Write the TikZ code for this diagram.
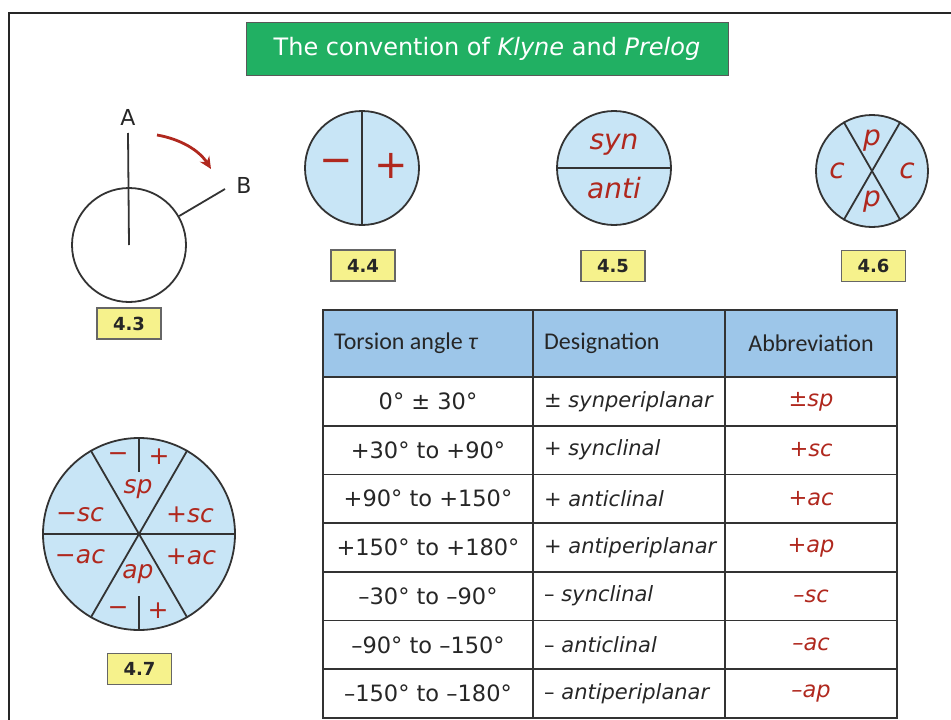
\documentclass[tikz,border=0pt]{standalone}
\usepackage{fontspec}
\setmainfont{DejaVu Sans}
\newfontfamily\calfont{Carlito}
\usetikzlibrary{arrows.meta}
\definecolor{tgreen}{HTML}{21B063}
\definecolor{cblue}{HTML}{C8E5F6}
\definecolor{hblue}{HTML}{9DC6E9}
\definecolor{rtxt}{HTML}{B0281E}
\definecolor{lyel}{HTML}{F6F28C}
\definecolor{lgray}{HTML}{333333}
\begin{document}
\begin{tikzpicture}[x=1pt,y=-1pt,
  ln/.style={line width=1.8pt, draw=lgray},
  disc/.style={circle, draw=lgray, line width=1.8pt, fill=cblue, inner sep=0pt},
  figlab/.style={draw=gray!80!black, line width=1.2pt, fill=lyel, minimum width=64pt, minimum height=31pt, inner sep=0pt, font=\bfseries\fontsize{18}{18}\selectfont, text=black!85},
  rlab/.style={text=rtxt, font=\itshape\fontsize{25}{25}\selectfont, inner sep=0pt},
  rlabbig/.style={text=rtxt, font=\itshape\fontsize{28}{28}\selectfont, inner sep=0pt},
  rsign/.style={text=rtxt, font=\fontsize{25}{25}\selectfont, inner sep=0pt},
  bigsign/.style={text=rtxt, font=\fontsize{40}{40}\selectfont, inner sep=0pt},
  atxt/.style={font=\fontsize{22}{22}\selectfont, text=black!85, inner sep=0pt},
  tline/.style={line width=1.8pt, draw=lgray},
  hcell/.style={font=\calfont\fontsize{24}{24}\selectfont, text=black!85, inner sep=0pt},
  bcell/.style={font=\fontsize{22.5}{22.5}\selectfont, text=black!85, inner sep=0pt},
  dcell/.style={font=\fontsize{21}{21}\selectfont, text=black!85, inner sep=0pt},
  acell/.style={font=\itshape\fontsize{22.5}{22.5}\selectfont, text=rtxt, inner sep=0pt}
]
\path[use as bounding box] (0,0) rectangle (951,720);
% frame
\draw[line width=2pt, black!85] (951,13) -- (9,13) -- (9,720);
% title
\node[fill=tgreen, draw=gray!70!black, line width=1pt, minimum width=482pt, minimum height=53pt, inner sep=0pt,
  text=white, font=\fontsize{24}{24}\selectfont] (title) at (487,48.5)
  {The convention of \textit{Klyne} and \textit{Prelog}};

% figure 4.3
\node[circle, draw=lgray, line width=1.8pt, minimum size=114pt, inner sep=0pt] (c43) at (129,245) {};
\node[atxt] (A) at (128,117) {A};
\node[atxt] (B) at (244,185) {B};
\coordinate (Atip) at (128,133);
\coordinate (Btip) at (225,189);
\draw[ln] (c43.center) -- (Atip);
\draw[ln] (c43.30) -- (Btip);
\coordinate (arrS) at (157,135);
\coordinate (arrE) at (211,169);
\draw[-{Stealth[length=12pt,width=11pt]}, line width=2.8pt, rtxt] (arrS) .. controls (180,139) and (199,150) .. (arrE);
\node[figlab] (l43) at (129,323.5) {4.3};

% figure 4.4
\node[disc, minimum size=114pt] (c44) at (362,168) {};
\draw[ln] (c44.north) -- (c44.south);
\node[bigsign] (m44) at (336,166) {\char"2212};
\node[bigsign] (p44) at (391,166) {+};
\node[figlab] (l44) at (363,265.5) {4.4};

% figure 4.5
\node[disc, minimum size=114pt] (c45) at (614,168) {};
\draw[ln] (c45.west) -- (c45.east);
\node[rlabbig] (syn) at (614,145) {syn};
\node[rlabbig] (anti) at (614,188) {anti};
\node[figlab] (l45) at (613,266) {4.5};

% figure 4.6
\node[disc, minimum size=112pt] (c46) at (872,171) {};
\draw[ln] (c46.120) -- (c46.-60);
\draw[ln] (c46.60) -- (c46.-120);
\node[rlabbig] (p46a) at (872,141) {p};
\node[rlabbig] (p46b) at (872,202) {p};
\node[rlabbig] (c46l) at (837,171) {c};
\node[rlabbig] (c46r) at (907,171) {c};
\node[figlab] (l46) at (873.5,266) {4.6};

% figure 4.7
\node[disc, minimum size=192pt] (c47) at (139,534) {};
\draw[ln] (c47.west) -- (c47.east);
\draw[ln] (c47.60) -- (c47.-120);
\draw[ln] (c47.120) -- (c47.-60);
\coordinate (t47) at (139,472);
\coordinate (b47) at (139,596);
\draw[ln] (c47.north) -- (t47);
\draw[ln] (c47.south) -- (b47);
\node[rsign] (m47a) at (118,457) {\char"2212};
\node[rsign] (p47a) at (159,457) {+};
\node[rlab] (sp47) at (138,489) {sp};
\node[rlab] (msc) at (80,515) {\char"2212sc};
\node[rlab] (psc) at (190,515) {+sc};
\node[rlab] (mac) at (80,557) {\char"2212ac};
\node[rlab] (pac) at (191,557) {+ac};
\node[rlab] (ap47) at (138,574) {ap};
\node[rsign] (m47b) at (118,611) {\char"2212};
\node[rsign] (p47b) at (158,611) {+};
\node[figlab] (l47) at (139.5,669) {4.7};

% table
\fill[hblue] (323,310) rectangle (897,377);
\foreach \y in {377,425.7,474.4,523.1,571.8,620.5,669.2}
  \draw[tline] (323,\y) -- (897,\y);
\draw[tline] (533,310) -- (533,718);
\draw[tline] (725,310) -- (725,718);
\draw[tline] (323,310) rectangle (897,718);

\node[hcell, anchor=west] (h1) at (334,343.5) {Torsion angle \textit{τ}};
\node[hcell, anchor=west] (h2) at (544,343.5) {Designation};
\node[hcell] (h3) at (811,343.5) {Abbreviation};

\foreach \k/\a/\d/\b in {
  0/{0° ± 30°}/{± \textit{synperiplanar}}/{±sp},
  1/{+30° to +90°}/{+ \textit{synclinal}}/{+sc},
  2/{+90° to +150°}/{+ \textit{anticlinal}}/{+ac},
  3/{+150° to +180°}/{+ \textit{antiperiplanar}}/{+ap},
  4/{–30° to –90°}/{– \textit{synclinal}}/{–sc},
  5/{–90° to –150°}/{– \textit{anticlinal}}/{–ac},
  6/{–150° to –180°}/{– \textit{antiperiplanar}}/{–ap}}{
  \pgfmathsetmacro{\yy}{401.35+48.7*\k}
  \node[bcell] (ra\k) at (428,\yy) {\a};
  \node[dcell, anchor=west] (rd\k) at (544,\yy) {\d};
  \node[acell] (rb\k) at (811,\yy) {\b};
}
\end{tikzpicture}
\end{document}
